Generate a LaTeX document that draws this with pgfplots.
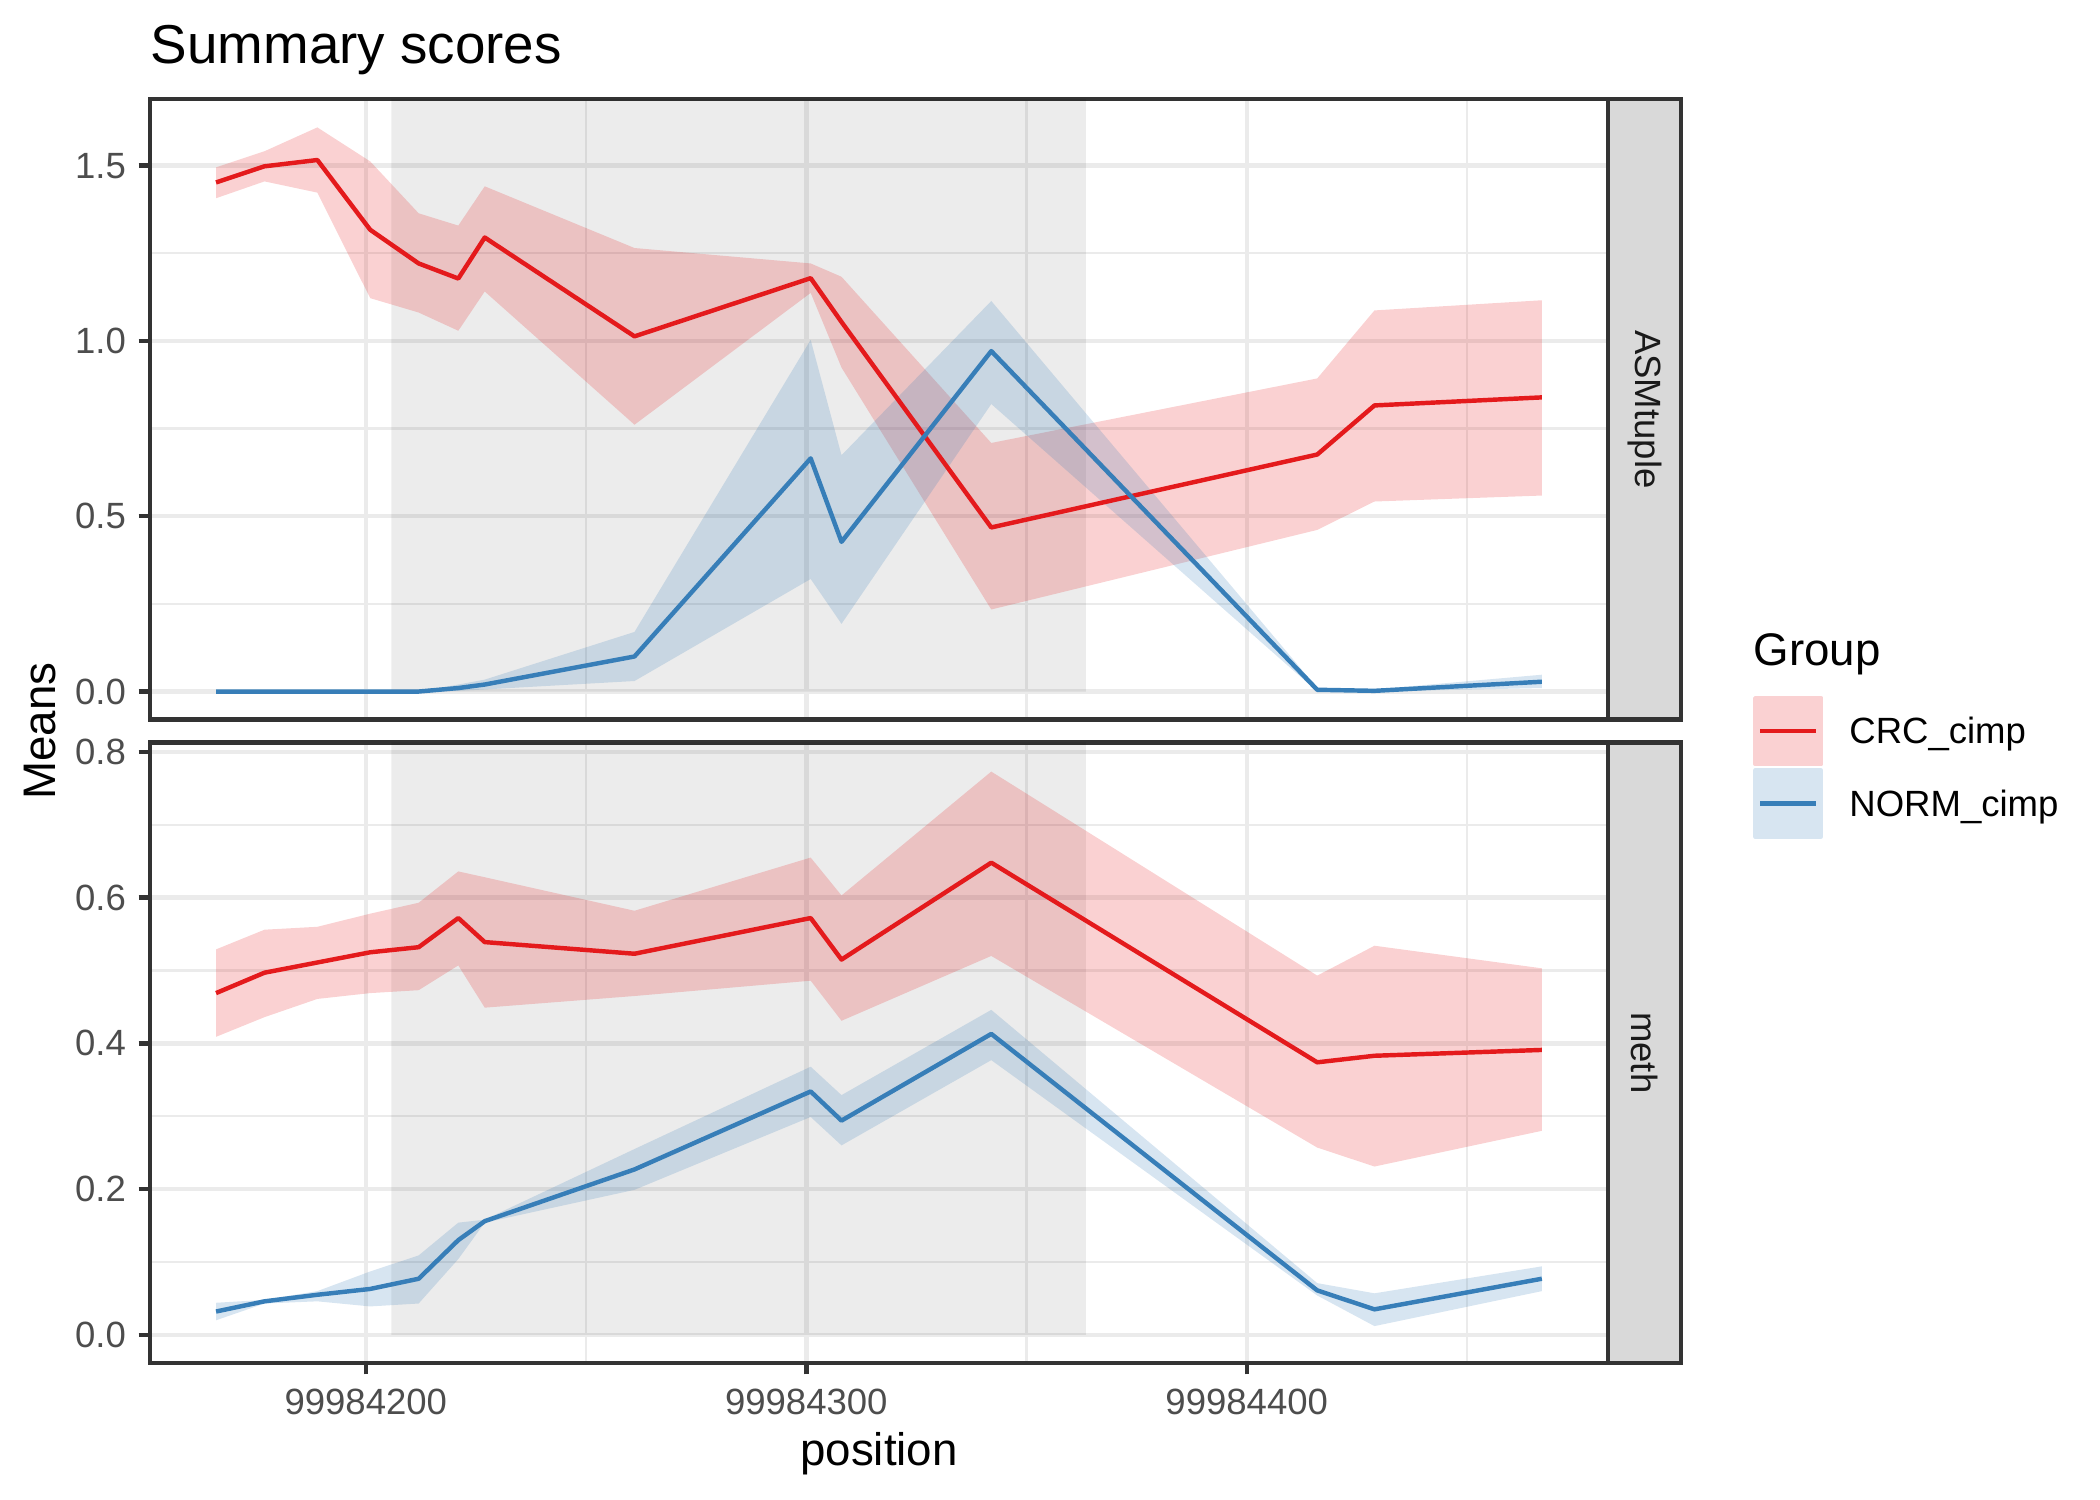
\documentclass[border=0pt]{standalone}
\usepackage{fontspec}
\setmainfont{Liberation Sans}
\usepackage{pgfplots}
\pgfplotsset{compat=1.18}
\usepackage{pgfplotstable}

\definecolor{crcl}{HTML}{E41A1C}
\definecolor{norml}{HTML}{377EB8}
\definecolor{grey92}{HTML}{EBEBEB}
\definecolor{grey20}{HTML}{333333}
\definecolor{grey30}{HTML}{4D4D4D}
\definecolor{grey85}{HTML}{D9D9D9}
\definecolor{grey10}{HTML}{1A1A1A}

% position offset: 99984000
\pgfplotstableread{
x mean
166 1.452
177 1.498
189 1.516
201 1.317
212 1.221
221 1.178
227 1.295
261 1.013
301 1.179
308 1.054
342 0.468
416 0.676
429 0.816
467 0.839
}\crcA

\pgfplotstableread{
x mean
166 0.000
177 0.000
189 0.000
201 0.000
212 0.000
221 0.010
227 0.020
261 0.100
301 0.665
308 0.427
342 0.971
416 0.005
429 0.002
467 0.028
}\normA

\pgfplotstableread{
x mean
166 0.469
177 0.497
189 0.511
201 0.525
212 0.532
221 0.572
227 0.539
261 0.523
301 0.572
308 0.515
342 0.648
416 0.374
429 0.383
467 0.391
}\crcB

\pgfplotstableread{
x mean
166 0.032
177 0.046
189 0.055
201 0.063
212 0.077
221 0.130
227 0.156
261 0.227
301 0.334
308 0.294
342 0.413
416 0.061
429 0.035
467 0.077
}\normB

\pgfplotsset{
  panel/.style={
    anchor=north west, width=351.22pt, height=149.5pt, scale only axis,
    xmin=151, xmax=482,
    xtick={200,300,400}, minor xtick={250,350,450},
    grid=both,
    major grid style={grey92, line width=1.07pt},
    minor grid style={grey92, line width=0.53pt},
    axis line style={grey20, line width=1.07pt},
    tick style={grey20, line width=1.07pt},
    major tick length=2.75pt, minor tick length=0pt, tick align=outside,
    xtick pos=bottom, ytick pos=left,
    ticklabel style={font=\fontsize{8.8}{10.56}\selectfont, text=grey30, inner sep=0pt},
    xticklabel style={yshift=-3.3pt},
    yticklabel style={xshift=-2.85pt},
    clip=true,
  },
  rib/.style={draw=none, forget plot},
}

\begin{document}
\begin{tikzpicture}
\path[use as bounding box] (0,0) rectangle (505.89pt,-361.35pt);

% ---------------- top panel: ASMtuple
\begin{axis}[panel, name=top, at={(36.13pt,-23.85pt)},
  ymin=-0.08, ymax=1.69,
  ytick={0,0.5,1,1.5}, yticklabels={0.0,0.5,1.0,1.5},
  minor ytick={0.25,0.75,1.25},
  xmajorticks=false, xticklabels={},
  legend style={draw=none, fill=none, inner sep=0pt, outer sep=0pt,
    row sep=0.45pt, column sep=6.26pt,
    at={(axis description cs:1.0995,0.0381)}, anchor=north west,
    font=\fontsize{8.8}{10.56}\selectfont,
    cells={anchor=base west}, nodes={inner sep=0pt}},
]
\addplot[fill=black, fill opacity=0.075, draw=none, forget plot]
  coordinates {(205.8,0) (363.5,0) (363.5,1.69) (205.8,1.69) (205.8,0)};
% CRC ribbon (upper bound forward, lower bound back)
\addplot[rib, fill=crcl, fill opacity=0.2] coordinates {
  (166,1.495)(177,1.541)(189,1.609)(201,1.512)(212,1.364)(221,1.329)(227,1.441)
  (261,1.265)(301,1.221)(308,1.183)(342,0.709)(416,0.893)(429,1.087)(467,1.116)
  (467,0.559)(429,0.542)(416,0.461)(342,0.234)(308,0.924)(301,1.137)(261,0.761)
  (227,1.141)(221,1.029)(212,1.081)(201,1.122)(189,1.423)(177,1.455)(166,1.407)};
% NORM ribbon
\addplot[rib, fill=norml, fill opacity=0.2] coordinates {
  (166,0)(177,0)(189,0)(201,0)(212,0)(221,0.020)(227,0.034)
  (261,0.170)(301,1.003)(308,0.674)(342,1.114)(416,0.010)(429,0.006)(467,0.048)
  (467,0.010)(429,0)(416,0)(342,0.820)(308,0.193)(301,0.321)(261,0.030)
  (227,0.006)(221,0.002)(212,0)(201,0)(189,0)(177,0)(166,0)};
\addplot[crcl, line width=1.07pt, line join=round,
  legend image code/.code={\fill[crcl!20] (0pt,-4.9pt) rectangle (15.9pt,11pt);
    \draw[crcl, line width=1.07pt] (1.2pt,3.05pt) -- (14.7pt,3.05pt);}]
  table[x=x,y=mean]{\crcA};
\addlegendentry{CRC\_cimp}
\addplot[norml, line width=1.07pt, line join=round,
  legend image code/.code={\fill[norml!20] (0pt,-4.9pt) rectangle (15.9pt,11pt);
    \draw[norml, line width=1.07pt] (1.2pt,3.05pt) -- (14.7pt,3.05pt);}]
  table[x=x,y=mean]{\normA};
\addlegendentry{NORM\_cimp}
\end{axis}
\draw[grey20, fill=grey85, line width=1.07pt] (387.35pt,-23.85pt) rectangle (404.95pt,-173.35pt);
\node[rotate=-90, text=grey10, font=\fontsize{8.8}{10.56}\selectfont] at (396.15pt,-98.6pt) {ASMtuple};

% ---------------- bottom panel: meth
\begin{axis}[panel, name=bot, at={(36.13pt,-178.85pt)},
  ymin=-0.0387, ymax=0.813,
  ytick={0,0.2,0.4,0.6,0.8}, yticklabels={0.0,0.2,0.4,0.6,0.8},
  minor ytick={0.1,0.3,0.5,0.7},
  xticklabels={99984200,99984300,99984400},
]
\addplot[fill=black, fill opacity=0.075, draw=none, forget plot]
  coordinates {(205.8,0) (363.5,0) (363.5,0.813) (205.8,0.813) (205.8,0)};
\addplot[rib, fill=crcl, fill opacity=0.2] coordinates {
  (166,0.529)(177,0.556)(189,0.560)(201,0.578)(212,0.593)(221,0.636)(227,0.628)
  (261,0.582)(301,0.655)(308,0.603)(342,0.773)(416,0.493)(429,0.534)(467,0.503)
  (467,0.280)(429,0.231)(416,0.257)(342,0.520)(308,0.431)(301,0.486)(261,0.465)
  (227,0.449)(221,0.507)(212,0.473)(201,0.469)(189,0.461)(177,0.436)(166,0.409)};
\addplot[rib, fill=norml, fill opacity=0.2] coordinates {
  (166,0.044)(177,0.048)(189,0.060)(201,0.087)(212,0.109)(221,0.154)(227,0.158)
  (261,0.255)(301,0.368)(308,0.329)(342,0.446)(416,0.071)(429,0.057)(467,0.094)
  (467,0.060)(429,0.012)(416,0.054)(342,0.377)(308,0.260)(301,0.299)(261,0.199)
  (227,0.154)(221,0.104)(212,0.043)(201,0.039)(189,0.046)(177,0.043)(166,0.020)};
\addplot[crcl, line width=1.07pt, line join=round] table[x=x,y=mean]{\crcB};
\addplot[norml, line width=1.07pt, line join=round] table[x=x,y=mean]{\normB};
\end{axis}
\draw[grey20, fill=grey85, line width=1.07pt] (387.35pt,-178.85pt) rectangle (404.95pt,-328.35pt);
\node[rotate=-90, text=grey10, font=\fontsize{8.8}{10.56}\selectfont] at (396.15pt,-253.6pt) {meth};

% ---------------- titles and labels
\node[anchor=base west, inner sep=0pt, font=\fontsize{13.2}{15.84}\selectfont] at (36.13pt,-15.4pt) {Summary scores};
\node[rotate=90, anchor=north, inner sep=0pt, font=\fontsize{11}{13.2}\selectfont] at (5.5pt,-176.1pt) {Means};
\node[anchor=south, inner sep=0pt, font=\fontsize{11}{13.2}\selectfont] at (211.75pt,-355.6pt) {position};
\node[anchor=base west, inner sep=0pt, font=\fontsize{11}{13.2}\selectfont] at (422.29pt,-160.36pt) {Group};
\end{tikzpicture}
\end{document}
